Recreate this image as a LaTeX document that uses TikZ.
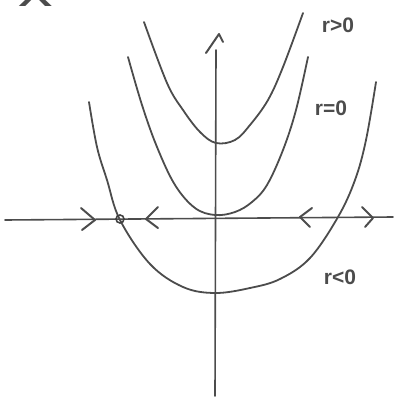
\documentclass[tikz,border=0pt]{standalone}
\usepackage{fontspec}
\setmainfont{Liberation Sans}
\begin{document}
\begin{tikzpicture}[x=1pt,y=-1pt,
  pen/.style={draw=black!70, line width=2pt, line cap=round, line join=round},
  curve/.style={pen, line width=1.8pt},
  lbl/.style={text=black!70, font=\fontsize{21}{21}\selectfont\bfseries, inner sep=0pt}]
\useasboundingbox (0,0) rectangle (398,404);
% partially visible text at top left
\node[text=black!70, font=\fontsize{46}{46}\selectfont, inner sep=0pt, anchor=base, xscale=1.5] (xdot) at (36,7) {ẋ};
% axes
\coordinate (hl) at (5,220);
\coordinate (hr) at (393,217);
\coordinate (vb) at (215,396);
\coordinate (vt) at (216,50);
\draw[pen, line width=1.6pt] (hl) -- (hr);
\draw[pen, line width=1.6pt] (vb) -- (vt);
\coordinate (tip) at (219,34);
\draw[pen] (206,53) -- (tip) -- (223,42);
% parabolas
\draw[curve] plot[smooth, tension=0.6] coordinates {(144,22) (167,83) (183,110) (200,132) (216,143) (235,140) (250,125) (268,100) (283,67) (303,13)};
\draw[curve] plot[smooth, tension=0.6] coordinates {(128,57) (142,105) (157,147) (175,185) (195,208) (215,215) (235,212) (252,202) (267,185) (283,150) (296,110) (308,57)};
\draw[curve] plot[smooth, tension=0.6] coordinates {(89,102) (97,147) (107,180) (120,220) (150,264) (183,287) (215,293) (250,288) (280,279) (310,258) (338,217) (355,180) (366,140) (376,82)};
% fixed point
\node[draw=black!75, line width=1.6pt, circle, minimum size=8pt, inner sep=0pt] (fp) at (120,219) {};
% flow chevrons
\draw[pen] (81,208) -- (95,220) -- (82,230);
\draw[pen] (158,207) -- (146,219) -- (158,228);
\draw[pen] (312,208) -- (300,217) -- (310,227);
\draw[pen] (362,207) -- (373,218) -- (365,227);
% labels
\node[lbl] (rpos) at (338,25) {r>0};
\node[lbl] (rzero) at (331,108) {r=0};
\node[lbl] (rneg) at (340,277) {r<0};
\end{tikzpicture}
\end{document}
